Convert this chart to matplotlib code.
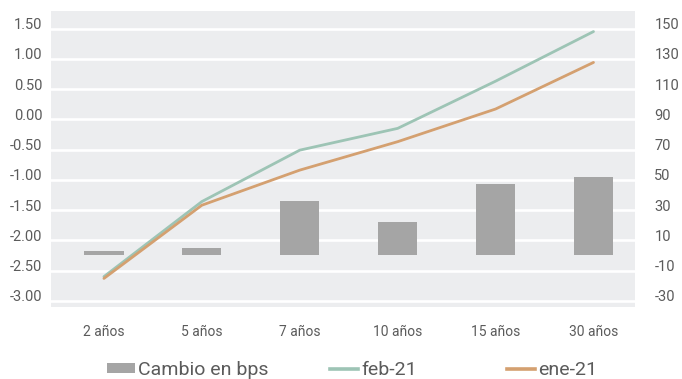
import matplotlib
matplotlib.use("Agg")
import matplotlib.pyplot as plt
from matplotlib.transforms import ScaledTranslation
from matplotlib.patches import Patch
from matplotlib.lines import Line2D

categories = ["2 años", "5 años", "7 años", "10 años", "15 años", "30 años"]
feb21 = [-2.60, -1.36, -0.51, -0.15, 0.63, 1.45]
ene21 = [-2.63, -1.42, -0.84, -0.37, 0.17, 0.94]
cambio_bps = [3, 5, 36, 22, 47, 52]

left_ticks = [1.5, 1.0, 0.5, 0.0, -0.5, -1.0, -1.5, -2.0, -2.5, -3.0]
right_ticks = [150, 130, 110, 90, 70, 50, 30, 10, -10, -30]

C_FEB = "#9dc4b5"
C_ENE = "#d4a070"
C_BAR = "#a5a5a5"
C_BG = "#ecedef"
C_TXT = "#5b5b5b"
FONT = ["Roboto", "DejaVu Sans"]

fig = plt.figure(figsize=(6.82, 3.79), dpi=100)
fig.patch.set_facecolor("white")
axR = fig.add_axes([0.0743, 0.1908, 0.9311 - 0.0743, 0.971 - 0.1908])
ax = axR.twinx()
axR.set_zorder(1)
ax.set_zorder(2)
ax.patch.set_visible(False)
axR.patch.set_visible(True)
axR.set_facecolor(C_BG)

x = list(range(len(categories)))

# bars on right scale
axR.bar(x, cambio_bps, width=0.40, color=C_BAR, zorder=3, edgecolor="none")
axR.set_ylim(-33.88, 161.6)
axR.set_yticks(right_ticks)
axR.set_yticklabels([f"{t}" for t in right_ticks])
axR.grid(axis="y", color="white", linewidth=1.9, zorder=1)
axR.set_axisbelow(True)

# lines on left scale
ax.plot(x, feb21, color=C_FEB, linewidth=2.0, solid_capstyle="round", zorder=5)
ax.plot(x, ene21, color=C_ENE, linewidth=2.0, solid_capstyle="round", zorder=5)
ax.set_ylim(-3.097, 1.790)
ax.set_yticks(left_ticks)
ax.set_yticklabels([f"{t:.2f}" for t in left_ticks])

ax.set_xlim(-0.544, 5.424)
axR.set_xlim(-0.544, 5.424)
axR.set_xticks(x)
axR.set_xticklabels(categories)

ax.yaxis.tick_left()
axR.yaxis.tick_right()

for a in (ax, axR):
    for s in a.spines.values():
        s.set_visible(False)
    a.tick_params(length=0)

ax.tick_params(axis="y", pad=6, labelcolor=C_TXT)
axR.tick_params(axis="y", pad=14, labelcolor=C_TXT)
axR.tick_params(axis="x", pad=13, labelcolor=C_TXT)
ax.tick_params(axis="x", bottom=False, labelbottom=False)

for lab in ax.get_yticklabels():
    lab.set_fontfamily(FONT)
    lab.set_fontsize(10.5)
    lab.set_horizontalalignment("right")
for lab in axR.get_yticklabels():
    lab.set_fontfamily(FONT)
    lab.set_fontsize(10.5)
    lab.set_horizontalalignment("left")
for lab in axR.get_xticklabels():
    lab.set_fontfamily(FONT)
    lab.set_fontsize(10)

handles = [
    Patch(facecolor=C_BAR, edgecolor="none"),
    Line2D([0], [0], color=C_FEB, linewidth=2.6),
    Line2D([0], [0], color=C_ENE, linewidth=2.6),
]
labels = ["Cambio en bps", "feb-21", "ene-21"]
leg_x = [107, 330, 507]
for h, l, lx in zip(handles, labels, leg_x):
    leg = fig.legend([h], [l], loc="center left", bbox_to_anchor=(lx / 682, 1 - 370 / 379),
                     frameon=False, handlelength=1.45, handleheight=0.45,
                     handletextpad=0.15, borderpad=0, borderaxespad=0,
                     prop={"family": FONT, "size": 14})
    for t in leg.get_texts():
        t.set_color(C_TXT)

fig.canvas.draw()
shift = ScaledTranslation(0, 5 / 100, fig.dpi_scale_trans)
for lab in ax.get_yticklabels() + axR.get_yticklabels():
    lab.set_transform(lab.get_transform() + shift)

fig.savefig("out.png", dpi=100, facecolor="white")
